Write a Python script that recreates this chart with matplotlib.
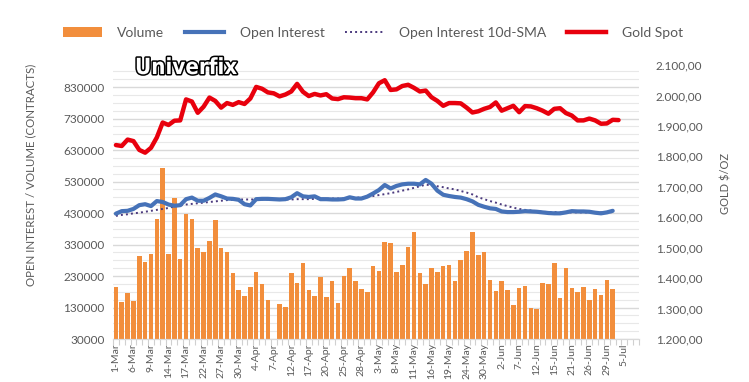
import numpy as np
import pandas as pd
import matplotlib
matplotlib.use('Agg')
import matplotlib.pyplot as plt
import matplotlib.patheffects as pe
from matplotlib.patches import Patch
from matplotlib.lines import Line2D
from matplotlib.ticker import FuncFormatter

plt.rcParams['font.family'] = ['Lato', 'DejaVu Sans']

# Trading days 1-Mar .. 7-Jul (2023), without the US holidays missing in the sheet
dates = pd.bdate_range('2023-03-01', '2023-07-07')
dates = dates.drop(pd.to_datetime(['2023-05-29', '2023-06-19', '2023-07-04']))
date_labels = ['{}-{}'.format(d.day, d.strftime('%b')) for d in dates]

# Volume (contracts), 7-Apr has no value
volume = [194000, 148000, 176000, 151000, 295000, 274000, 301000, 412000, 572000, 299000,
          479000, 284000, 426000, 412000, 318000, 307000, 341000, 408000, 318000, 307000,
          238000, 186000, 168000, 194000, 242000, 206000, 155000, np.nan, 141000, 131000,
          238000, 209000, 271000, 186000, 168000, 227000, 163000, 215000, 144000, 230000,
          254000, 214000, 189000, 178000, 261000, 247000, 337000, 334000, 244000, 264000,
          321000, 371000, 241000, 204000, 257000, 244000, 262000, 265000, 213000, 280000,
          310000, 371000, 298000, 307000, 216000, 181000, 214000, 184000, 137000, 193000,
          197000, 129000, 125000, 208000, 205000, 271000, 159000, 257000, 191000, 178000,
          194000, 154000, 188000, 171000, 217000, 188000]

# Open interest (thousand contracts)
open_interest = [428, 436, 437, 443, 455, 458, 452, 468, 465, 457,
                 453, 455, 474, 479, 469, 469, 478, 489, 483, 476,
                 475, 472, 458, 454, 474, 475, 475, 474, 473, 474,
                 480, 493, 483, 481, 483, 474, 474, 473, 473, 474,
                 480, 476, 476, 482, 492, 503, 519, 508, 516, 521,
                 523, 523, 521, 535, 523, 501, 488, 484, 481, 479,
                 474, 467, 456, 450, 445, 443, 435, 433, 433, 434,
                 436, 435, 434, 432, 430, 429, 429, 432, 436, 435,
                 435, 434, 431, 429, 432, 437]

# Open interest 10d-SMA (thousand contracts)
oi_sma = [421, 424, 426, 429, 431, 434, 437, 440, 443, 446,
          451, 454, 457, 459, 461, 463, 465, 467, 469, 471,
          472, 473, 473, 473, 473, 473, 473, 473, 473, 473,
          473, 474, 474, 474, 475, 475, 475, 476, 476, 476,
          477, 478, 480, 482, 484, 487, 490, 493, 497, 501,
          505, 510, 515, 520, 518, 515, 512, 508, 505, 500,
          495, 489, 480, 474, 468, 463, 457, 452, 447, 443,
          440, 438, 436, 434, 433, 433, 432, 432, 432, 432,
          432, 432, 432, 432, 432, 433]

# Gold spot ($/oz)
gold = [1837, 1834, 1855, 1850, 1821, 1812, 1828, 1862, 1911, 1903,
        1917, 1918, 1987, 1980, 1943, 1963, 1993, 1982, 1960, 1975,
        1969, 1978, 1972, 1990, 2028, 2022, 2010, 2007, 1997, 2003,
        2013, 2038, 2012, 1998, 2005, 2000, 2004, 1990, 1988, 1994,
        1993, 1991, 1991, 1987, 2010, 2040, 2050, 2018, 2020, 2031,
        2035, 2025, 2013, 2016, 1994, 1982, 1966, 1975, 1975, 1974,
        1960, 1944, 1948, 1956, 1962, 1977, 1950, 1958, 1966, 1945,
        1965, 1964, 1958, 1950, 1940, 1956, 1958, 1942, 1934, 1918,
        1918, 1924, 1918, 1907, 1908, 1920, 1919]

C_VOL = '#F28E3C'
C_OI = '#4672B8'
C_SMA = '#4B3A7E'
C_GOLD = '#E8000D'
C_TXT = '#595959'

fig = plt.figure(figsize=(7.49, 3.82), dpi=100)
ax = fig.add_axes([113/749, 43/382, 526/749, 274/382])
ax2 = ax.twinx()

x_vol = np.arange(len(volume))
ax.bar(x_vol, np.array(volume, dtype=float), width=0.78, color=C_VOL, zorder=2)
ax.plot(np.arange(len(open_interest)), np.array(open_interest) * 1000, color=C_OI,
        lw=3.0, zorder=4, solid_capstyle='round')
ax.plot(np.arange(len(oi_sma)), np.array(oi_sma) * 1000, color=C_SMA, lw=1.4,
        ls=(0, (1, 1.6)), zorder=3)
ax2.plot(np.arange(len(gold)), gold, color=C_GOLD, lw=3.2, solid_capstyle='round')

# axes ranges
ax.set_xlim(-0.5, len(date_labels) - 0.5)
ax.set_ylim(30000, 900000)
ax2.set_ylim(1200, 2100)

# grid
ax.set_yticks(np.arange(30000, 900001, 100000))
ax.set_yticks(np.arange(30000, 900001, 25000), minor=True)
ax.grid(axis='y', which='major', color='#d9d9d9', lw=1.0, zorder=0)
ax.grid(axis='y', which='minor', color='#e8e8e8', lw=0.8, zorder=0)
ax.set_axisbelow(True)
ax.tick_params(axis='y', which='both', length=0, labelsize=8.5, labelcolor=C_TXT, pad=6)
ax.yaxis.set_major_formatter(FuncFormatter(lambda v, p: '{:d}'.format(int(round(v)))))

ax2.set_yticks(np.arange(1200, 2101, 100))
ax2.yaxis.set_major_formatter(FuncFormatter(
    lambda v, p: '{:,.2f}'.format(v).replace(',', 'X').replace('.', ',').replace('X', '.')))
ax2.tick_params(axis='y', length=0, labelsize=8.5, labelcolor=C_TXT, pad=12)

# x axis
ax.set_xticks(np.arange(0, len(date_labels), 3))
ax.set_xticklabels(date_labels[::3], rotation=90)
ax.set_xticks(np.arange(-0.5, len(date_labels), 1), minor=True)
ax.tick_params(axis='x', which='major', length=0, labelsize=7.5, labelcolor=C_TXT, pad=3)
ax.tick_params(axis='x', which='minor', length=4, color='#d0d0d0', width=0.8)

for a in (ax, ax2):
    for s in ('top', 'left', 'right'):
        a.spines[s].set_visible(False)
    a.spines['bottom'].set_color('#d9d9d9')

fig.text(31/749, 1 - 175/382, 'OPEN INTEREST / VOLUME (CONTRACTS)', rotation=90,
         ha='center', va='center', fontsize=8.3, color=C_TXT)
fig.text(726/749, 1 - 183/382, 'GOLD $/OZ', rotation=90,
         ha='center', va='center', fontsize=8.0, color=C_TXT)

# watermark
fig.text(135/749, 1 - 68/382, 'Univerfix', ha='left', va='center', fontsize=16,
         fontweight='bold', fontstretch='condensed', color='white',
         family=['DejaVu Sans'],
         path_effects=[pe.withStroke(linewidth=2.2, foreground='black')], zorder=10)

handles = [Patch(facecolor=C_VOL, edgecolor='none'),
           Line2D([], [], color=C_OI, lw=3.0),
           Line2D([], [], color=C_SMA, lw=1.4, ls=(0, (1, 1.6))),
           Line2D([], [], color=C_GOLD, lw=3.2)]
leg = fig.legend(handles, ['Volume', 'Open Interest', 'Open Interest 10d-SMA', 'Gold Spot'],
                 loc='center', bbox_to_anchor=(373/749, 1 - 33/382), ncol=4, frameon=False,
                 fontsize=10, handlelength=2.8, handletextpad=1.1, columnspacing=1.5)
for t in leg.get_texts():
    t.set_color(C_TXT)

fig.savefig('out.png', dpi=100)
